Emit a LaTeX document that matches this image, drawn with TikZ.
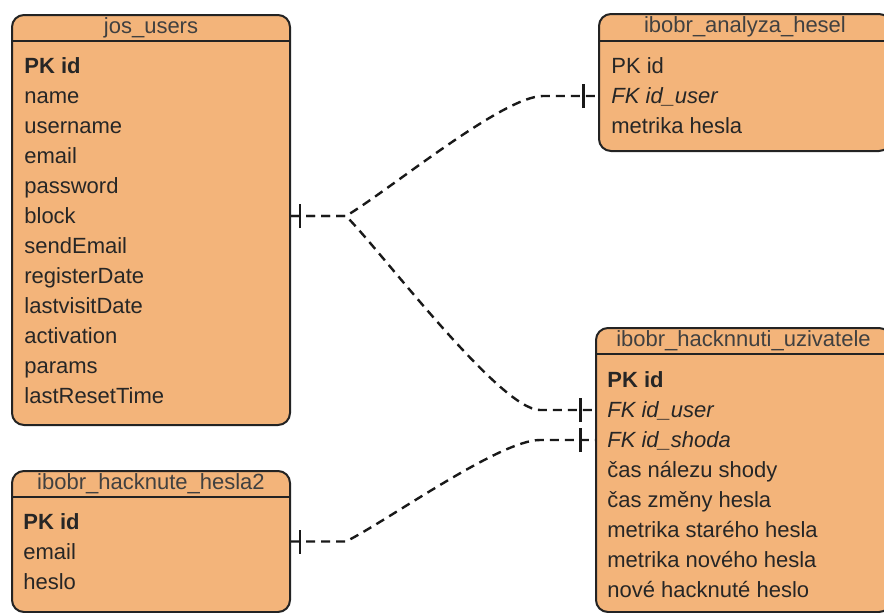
\documentclass[tikz,border=0pt]{standalone}
\usepackage{fontspec}
\setmainfont{Liberation Sans}
\usetikzlibrary{calc, decorations.markings}

\definecolor{tablefill}{RGB}{243,180,122}
\definecolor{tableline}{RGB}{35,35,35}

\begin{document}
\begin{tikzpicture}[x=0.5pt, y=-0.5pt,
		tbl/.style={draw=tableline, line width=1pt, fill=tablefill, rounded corners=6pt,
			anchor=north west, inner sep=0pt},
		thead/.style={anchor=base, inner sep=0pt, text=black!75,
			font=\fontsize{11}{13}\selectfont},
		trow/.style={anchor=west, inner sep=0pt, text=black!85, text height=9pt, text depth=2pt,
			font=\fontsize{11}{13}\selectfont},
		hline/.style={draw=tableline, line width=1pt},
		rel/.style={draw=black!90, line width=1.2pt, dash pattern=on 4.5pt off 3pt,
			postaction={decorate, decoration={markings,
					mark=at position 4.5pt with {\draw[solid, black!90, line width=1.4pt] (0,-6pt) -- (0,6pt);},
					mark=at position -7.25pt with {\draw[solid, black!90, line width=1.4pt] (0,-6pt) -- (0,6pt);}}}}
		]
		\useasboundingbox (0,0) rectangle (884,612);
		\clip (0,0) rectangle (884,612);
		
		% jos_users
		\node[tbl, minimum width=139pt, minimum height=205pt] (users) at (11,14) {};
		\node[thead] (users-h) at ($(users.north)+(0,19.5)$) {jos\_users};
		\draw[hline] ($(users.north west)+(0,26.5)$) -- ($(users.north east)+(0,26.5)$);
		\foreach \t [count=\i from 0] in {\textbf{PK id}, name, username, email, password, block,
			sendEmail, registerDate, lastvisitDate, activation, params, lastResetTime}
		\node[trow] (users-\i) at (24,66+30*\i) {\t};
		
		% ibobr_analyza_hesel
		\node[tbl, minimum width=146pt, minimum height=68.5pt] (ah) at (598,13) {};
		\node[thead] (ah-h) at ($(ah.north)+(0,19.5)$) {ibobr\_analyza\_hesel};
		\draw[hline] ($(ah.north west)+(0,27.5)$) -- ($(ah.north east)+(0,27.5)$);
		\foreach \t [count=\i from 0] in {PK id, \textit{FK id\_user}, metrika hesla}
		\node[trow] (ah-\i) at (611,66+30*\i) {\t};
		
		% ibobr_hacknnuti_uzivatele
		\node[tbl, minimum width=147.5pt, minimum height=142pt] (hu) at (595,327) {};
		\node[thead] (hu-h) at ($(hu.north)+(0,19.5)$) {ibobr\_hacknnuti\_uzivatele};
		\draw[hline] ($(hu.north west)+(0,26.5)$) -- ($(hu.north east)+(0,26.5)$);
		\foreach \t [count=\i from 0] in {\textbf{PK id}, \textit{FK id\_user}, \textit{FK id\_shoda},
			čas nálezu shody, čas změny hesla, metrika starého hesla, metrika nového hesla,
			nové hacknuté heslo}
		\node[trow] (hu-\i) at (607,380+30*\i) {\t};
		
		% ibobr_hacknute_hesla2
		\node[tbl, minimum width=139pt, minimum height=70.5pt] (hh) at (11,470) {};
		\node[thead] (hh-h) at ($(hh.north)+(0,19.5)$) {ibobr\_hacknute\_hesla2};
		\draw[hline] ($(hh.north west)+(0,26.5)$) -- ($(hh.north east)+(0,26.5)$);
		\foreach \t [count=\i from 0] in {\textbf{PK id}, email, heslo}
		\node[trow] (hh-\i) at (23,522+30*\i) {\t};
		
		% relations
		\draw[rel] (users.east |- users-5) -- ++(55,0)
		.. controls +(45,-27) and +(-40,0) .. ($(ah.west |- ah-1)+(-55,0)$) -- (ah.west |- ah-1);
		\draw[rel] (users.east |- users-5) -- ++(55,0)
		.. controls +(35,35) and +(-40,0) .. ($(hu.west |- hu-1)+(-55,0)$) -- (hu.west |- hu-1);
		\draw[rel] (hh.east) -- ++(55,0)
		.. controls +(45,-23) and +(-40,0) .. ($(hu.west |- hu-2)+(-55,0)$) -- (hu.west |- hu-2);
	\end{tikzpicture}
\end{document}
